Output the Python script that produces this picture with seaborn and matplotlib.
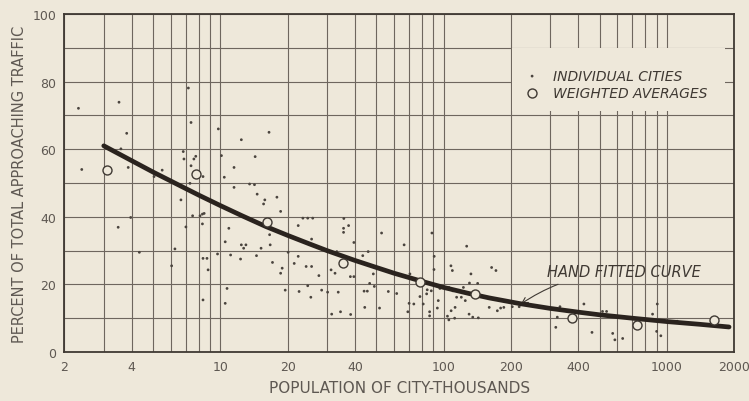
import matplotlib
matplotlib.use("Agg")
from matplotlib import pyplot as plt
from matplotlib.ticker import LogLocator, FixedLocator, NullFormatter
from matplotlib.patches import Rectangle
import pandas as pd
import seaborn as sns

# individual cities: population (thousands) and percent of approaching traffic
city_pop = [2.31, 2.39, 3.48, 3.51, 3.58, 3.80, 3.86, 3.96, 4.33, 5.04, 5.48,
            6.04, 6.25, 6.65, 6.81, 6.86, 7.0, 7.18, 7.38, 7.38, 7.3, 7.6, 7.75,
            7.5, 8.1, 8.3, 8.45, 8.3, 8.35, 8.35, 8.7, 8.35, 8.8, 9.7, 9.78,
            10.1, 10.4, 10.5, 10.5, 10.7, 10.9, 11.1, 11.5, 11.5, 12.3, 12.4,
            12.4, 12.7, 13.0, 13.5, 14.2, 14.3, 14.5, 14.6, 15.2, 15.6, 15.8,
            16.5, 16.6, 16.7, 17.1, 17.9, 18.6, 18.6, 18.9, 19.5, 20.1, 21.4,
            22.3, 22.3, 22.5, 23.4, 24.6, 25.9, 24.2, 25.6, 24.6, 25.4, 25.6,
            26.3, 27.6, 28.4, 30.2, 31.3, 31.5, 32.6, 33.2, 33.7, 35.7, 35.6,
            35.6, 37.5, 34.5, 38.3, 38.2, 39.6, 39.6, 43.4, 45.9, 44.3, 46.6,
            44.0, 45.5, 48.4, 48.9, 51.6, 52.7, 56.5, 61.6, 66.5, 69.1, 70.0,
            73.5, 70.6, 78.3, 81.0, 83.9, 84.4, 86.5, 86.5, 88.0, 88.6, 90.5,
            90.7, 93.7, 94.6, 96.2, 104, 105.5, 105.6, 107.8, 108, 109.4, 110,
            112, 112.5, 114.3, 120, 122.6, 125, 126.8, 130, 130.5, 132.5, 135,
            142, 143, 160, 164, 171.5, 174, 180, 186, 203, 218, 318, 323, 332,
            425, 462, 515, 537, 572, 585, 634, 863, 906, 900, 940, 1113]
city_pct = [72.1, 54.0, 36.9, 73.9, 60.1, 64.7, 54.6, 39.8, 29.5, 51.9, 53.8,
            25.5, 30.5, 45.0, 59.3, 57.1, 37.0, 78.1, 67.9, 55.1, 49.9, 57.1, 57.9,
            40.3, 40.3, 40.8, 41.0, 37.9, 51.9, 27.7, 27.7, 15.4, 24.3, 29.0, 66.0,
            58.1, 51.7, 32.6, 14.4, 18.8, 36.6, 28.7, 54.6, 48.7, 27.5, 62.8,
            31.7, 30.7, 31.7, 49.7, 49.5, 57.8, 28.5, 46.7, 30.7, 43.8, 45.0,
            65.0, 34.7, 31.7, 26.5, 45.8, 41.6, 23.3, 24.8, 18.3, 29.5, 26.2,
            37.4, 28.3, 17.9, 39.6, 39.6, 39.6, 25.3, 25.3, 19.6, 16.2, 33.4,
            31.5, 22.6, 18.3, 17.7, 24.3, 11.2, 23.3, 29.7, 17.7, 39.5, 36.6,
            35.4, 37.4, 11.9, 11.1, 22.3, 22.3, 32.4, 28.5, 29.7, 13.2, 20.3,
            18.0, 18.0, 23.1, 19.4, 13.0, 35.2, 17.9, 17.3, 31.7, 11.9, 14.4,
            14.2, 23.1, 16.4, 14.2, 17.2, 18.4, 11.9, 10.7, 18.1, 35.2, 24.4,
            28.3, 13.0, 15.2, 18.8, 10.6, 9.5, 19.1, 25.5, 12.2, 24.1, 18.1,
            10.0, 13.2, 16.2, 16.2, 19.1, 15.2, 31.3, 11.2, 20.4, 23.1, 10.3,
            20.3, 10.1, 13.2, 25.0, 24.1, 12.2, 13.0, 13.2, 13.4, 13.4, 7.3, 10.3, 13.4,
            14.2, 5.8, 12.0, 12.0, 5.5, 3.6, 4.0, 11.2, 14.2, 6.1, 4.8, 9.1]

# weighted averages
avg_pop = [3.10, 7.75, 16.2, 35.5, 78.2, 138, 375, 732, 1634]
avg_pct = [53.7, 52.6, 38.4, 26.3, 20.8, 17.2, 10.1, 7.9, 9.5]

# hand fitted curve
curve_pop = [3.0, 4.0, 5.0, 6.5, 8.0, 10, 12.5, 16, 20, 25, 30, 40, 50, 60,
             80, 100, 130, 160, 220, 300, 400, 500, 700, 1000, 1400, 1900]
curve_pct = [61.0, 56.6, 53.2, 49.4, 46.4, 43.3, 40.3, 37.1, 34.5, 32.0, 30.0,
             27.1, 25.0, 23.3, 20.9, 19.1, 17.3, 16.0, 14.3, 12.9, 11.8, 11.0,
             10.0, 9.0, 8.2, 7.4]

x_ticks = [2, 4, 10, 20, 40, 100, 200, 400, 1000, 2000]
x_tick_labels = ["2", "4", "10", "20", "40", "100", "200", "400", "1000", "2000"]
y_ticks = [0, 20, 40, 60, 80, 100]

paper = "#EEE8DA"
ink = "#3f3933"
grid_ink = "#6e665e"
text_ink = "#5e5852"

cities = pd.DataFrame({"pop": city_pop, "pct": city_pct})
avgs = pd.DataFrame({"pop": avg_pop, "pct": avg_pct})
curve = pd.DataFrame({"pop": curve_pop, "pct": curve_pct})

sns.set_style("white")
plt.rcParams["font.family"] = ["DejaVu Sans"]

fig = plt.figure(figsize=(7.49, 4.02), dpi=100, facecolor=paper)
ax = fig.add_axes([0.0861, 0.1219, 0.8939, 0.8408])
ax.set_facecolor(paper)

ax.set_xscale("log")
ax.set_xlim(2, 2000)
ax.set_ylim(0, 100)

ax.set_axisbelow(True)
ax.xaxis.set_major_locator(FixedLocator(x_ticks))
ax.set_xticklabels(x_tick_labels)
ax.xaxis.set_minor_locator(LogLocator(base=10, subs=range(1, 10)))
ax.xaxis.set_minor_formatter(NullFormatter())
ax.yaxis.set_major_locator(FixedLocator(y_ticks))
ax.yaxis.set_minor_locator(FixedLocator(range(0, 101, 10)))
ax.grid(which="both", axis="both", color=grid_ink, linewidth=0.8)
ax.tick_params(which="both", length=0, labelsize=9, labelcolor=text_ink, pad=6)

for side in ax.spines.values():
    side.set_color(ink)
    side.set_linewidth(1.3)

# blank area behind the legend
ax.add_patch(Rectangle((0.668, 0.713), 0.318, 0.187, transform=ax.transAxes,
                       facecolor=paper, edgecolor="none", zorder=1))

sns.scatterplot(data=cities, x="pop", y="pct", ax=ax, s=4, color="#4a443e",
                edgecolor="none", marker="o", label="INDIVIDUAL CITIES", zorder=3)
sns.lineplot(data=curve, x="pop", y="pct", ax=ax, color="#2a231e", linewidth=3.4,
             sort=False, estimator=None, zorder=4)
sns.scatterplot(data=avgs, x="pop", y="pct", ax=ax, s=42, facecolor=paper,
                edgecolor=ink, linewidth=1.0, label="WEIGHTED AVERAGES", zorder=5)

leg = ax.legend(loc="upper left", bbox_to_anchor=(0.659, 0.875), frameon=False,
                prop={"style": "italic", "size": 10}, labelcolor=ink,
                handletextpad=0.5, labelspacing=0.2, markerscale=1.0)
leg.set_zorder(6)

ax.annotate("HAND FITTED CURVE", xy=(222, 14.2), xytext=(290, 23.8),
            fontsize=10.5, style="italic", color=ink, ha="left", va="center",
            arrowprops=dict(arrowstyle="->", color=ink, lw=0.8,
                            connectionstyle="arc3,rad=0.15", shrinkA=4, shrinkB=0))

ax.set_xlabel("POPULATION OF CITY-THOUSANDS", fontsize=11, color=text_ink, labelpad=5)
ax.set_ylabel("PERCENT OF TOTAL APPROACHING TRAFFIC", fontsize=10.5, color=text_ink,
              labelpad=4)

fig.savefig("out.png", dpi=100, facecolor=paper)
